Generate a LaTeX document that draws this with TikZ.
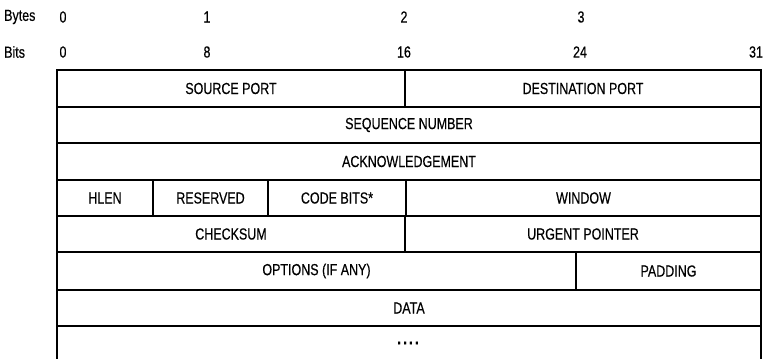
\documentclass[tikz,border=0pt]{standalone}
\usepackage{fontspec}
\setmainfont[FakeStretch=0.78, FakeBold=0.4]{Liberation Sans}
\begin{document}
\begin{tikzpicture}[x=1pt,y=-1pt,
  field/.style={draw, line width=1.5pt, rectangle, inner sep=0pt, outer sep=0pt,
    font=\fontsize{16}{18}\selectfont},
  scale label/.style={font=\fontsize{16}{18}\selectfont, inner sep=0pt},
  edge line/.style={line width=1.5pt}]
\useasboundingbox (0,0) rectangle (763,359);

% Axis labels: byte and bit offsets
\node[scale label, anchor=west] (bytes) at (4,17) {Bytes};
\node[scale label, anchor=west] (bits)  at (4,52) {Bits};
\node[scale label] (b0) at (63,17)  {0};
\node[scale label] (b1) at (207,17) {1};
\node[scale label] (b2) at (404,17) {2};
\node[scale label] (b3) at (581,17) {3};
\node[scale label] (t0)  at (63,52)  {0};
\node[scale label] (t8)  at (207,52) {8};
\node[scale label] (t16) at (404,52) {16};
\node[scale label] (t24) at (580,52) {24};
\node[scale label] (t31) at (756,52) {31};

% Row 1
\node[field, minimum width=348, minimum height=37] (sp) at (231,88.5) {SOURCE PORT};
\node[field, minimum width=356, minimum height=37] (dp) at (583,88.5) {DESTINATION PORT};
% Row 2
\node[field, minimum width=704, minimum height=36] (seq) at (409,125) {SEQUENCE NUMBER};
% Row 3
\node[field, minimum width=704, minimum height=37] (ack) at (409,161.5) {ACKNOWLEDGEMENT};
% Row 4
\node[field, minimum width=96,  minimum height=36] (hlen) at (105,198)   {HLEN};
\node[field, minimum width=115, minimum height=36] (res)  at (210.5,198) {RESERVED};
\node[field, minimum width=138, minimum height=36] (code) at (337,198)   {CODE BITS*};
\node[field, minimum width=355, minimum height=36] (win)  at (583.5,198) {WINDOW};
% Row 5
\node[field, minimum width=348, minimum height=36] (chk) at (231,234) {CHECKSUM};
\node[field, minimum width=356, minimum height=36] (urg) at (583,234) {URGENT POINTER};
% Row 6
\node[field, minimum width=519, minimum height=38] (opt) at (316.5,271) {OPTIONS (IF ANY)};
\node[field, minimum width=185, minimum height=38] (pad) at (668.5,271) {PADDING};
% Row 7
\node[field, minimum width=704, minimum height=36] (data) at (409,308) {DATA};
% Open-ended last row
\node[font=\fontsize{18}{20}\selectfont\bfseries, inner sep=0pt] (dots) at (408,343)
  {.\hspace{2pt}.\hspace{2pt}.\hspace{2pt}.};
\coordinate (lb) at (57,359);
\coordinate (rb) at (761,359);
\draw[edge line] (data.south west) -- (lb);
\draw[edge line] (data.south east) -- (rb);
\end{tikzpicture}
\end{document}
